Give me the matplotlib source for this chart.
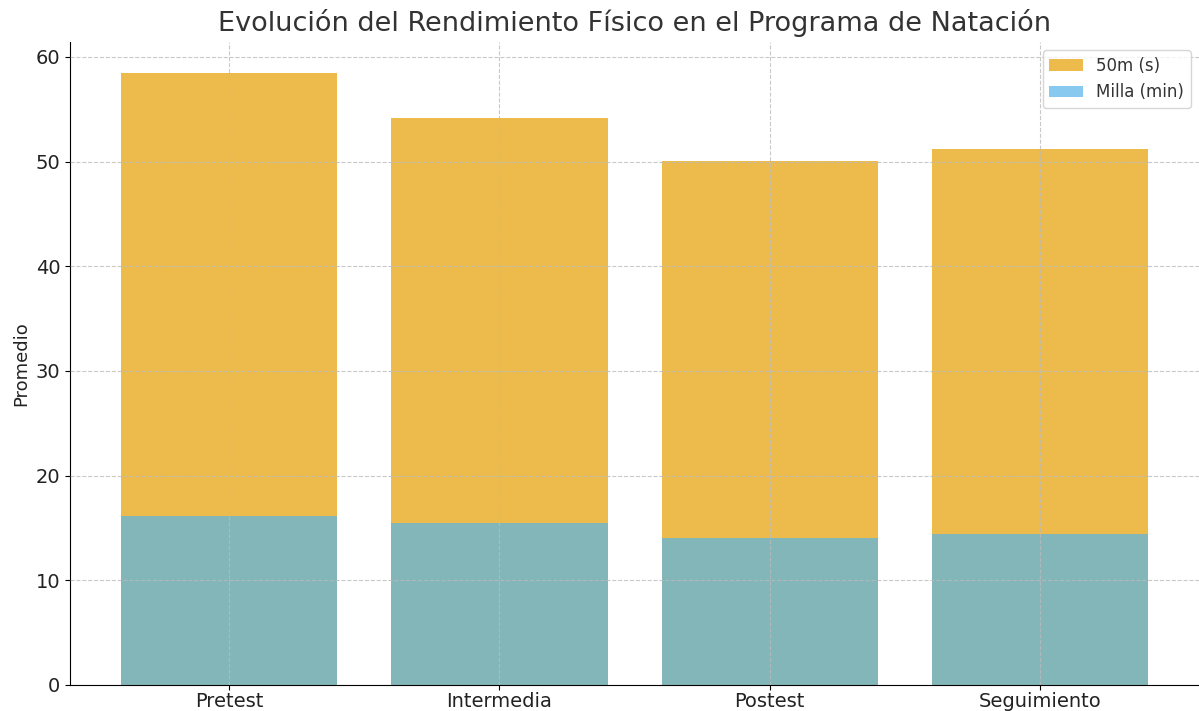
import numpy as np
import matplotlib.pyplot as plt

etapas = ["Pretest", "Intermedia", "Postest", "Seguimiento"]
tiempo_50m = [58.5, 54.2, 50.1, 51.2]
tiempo_milla = [16.1, 15.5, 14.0, 14.45]

x = np.arange(len(etapas))

fig = plt.figure(figsize=(11.99, 7.11), dpi=100)
ax = fig.add_axes([0.0584, 0.0366, 0.9416, 0.9044])

ax.bar(x, tiempo_50m, width=0.8, color='#E69F00', alpha=0.7, label='50m (s)')
ax.bar(x, tiempo_milla, width=0.8, color='#56B4E9', alpha=0.7, label='Milla (min)')

ax.set_xticks(x)
ax.set_xticklabels(etapas, fontsize=14, color='#222222')
ax.tick_params(axis='x', pad=1.5)
ax.tick_params(axis='y', labelsize=14, labelcolor='#222222')
ax.set_ylabel("Promedio", fontsize=13, color='#222222')
ax.set_title("Evolución del Rendimiento Físico en el Programa de Natación",
             fontsize=19.5, color='#333333', pad=8)

ax.grid(True, linestyle='--', color='#bbbbbb', linewidth=0.8, alpha=0.8)
ax.set_axisbelow(False)
ax.spines['top'].set_visible(False)
ax.spines['right'].set_visible(False)
leg = ax.legend(loc='upper right', fontsize=12)
for t in leg.get_texts():
    t.set_color('#333333')

fig.savefig("out.png", dpi=100)
